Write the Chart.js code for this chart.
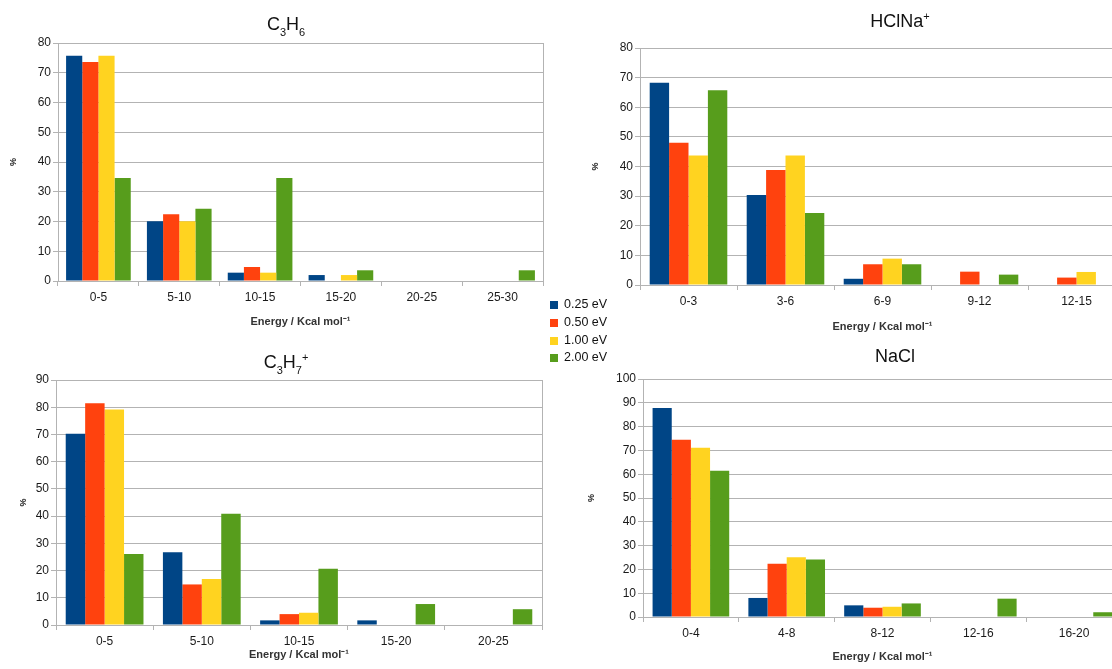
<!DOCTYPE html>
<html>
<head>
<meta charset="utf-8">
<script src="https://cdn.jsdelivr.net/npm/chart.js@4.4.1/dist/chart.umd.min.js"></script>
<style>
  html, body { margin: 0; padding: 0; background: #fff; }
  body { width: 1112px; height: 669px; overflow: hidden; position: relative;
         font-family: "Liberation Sans", Arial, sans-serif; }
  canvas { position: absolute; }
  .ttl { position: absolute; width: 300px; text-align: center; font-size: 18px;
         line-height: 20px; color: #111; }
  .ttl sub { font-size: 11px; vertical-align: -6px; line-height: 0; }
  .ttl sup { font-size: 11px; vertical-align: 7px; line-height: 0; }
  #legend { position: absolute; left: 550px; top: 296px; font-size: 12.5px; color: #111; }
  #legend div { height: 17.8px; line-height: 17px; white-space: nowrap; }
  #legend span { display: inline-block; width: 8px; height: 8px; margin-right: 6px;
                 vertical-align: -1px; }
</style>
</head>
<body>
<canvas id="cTL" width="560" height="335" style="left:0;top:0"></canvas>
<canvas id="cTR" width="580" height="340" style="left:560px;top:0"></canvas>
<canvas id="cBL" width="560" height="329" style="left:0;top:340px"></canvas>
<canvas id="cBR" width="580" height="329" style="left:560px;top:340px"></canvas>

<div class="ttl" style="left:136px;top:14px">C<sub>3</sub>H<sub>6</sub></div>
<div class="ttl" style="left:750px;top:11px">HClNa<sup>+</sup></div>
<div class="ttl" style="left:136px;top:352px">C<sub>3</sub>H<sub>7</sub><sup>+</sup></div>
<div class="ttl" style="left:745px;top:346px">NaCl</div>

<div id="legend"></div>

<script>
// Series (collision energies) and their colours
const seriesNames = ['0.25 eV', '0.50 eV', '1.00 eV', '2.00 eV'];
const seriesColors = ['#004586', '#ff420e', '#ffd320', '#579d1c'];

// C3H6 : energy bins and percentages
const c3h6Bins = ['0-5', '5-10', '10-15', '15-20', '20-25', '25-30'];
const c3h6_025 = [75.7, 20.1, 2.8, 2.0, 0, 0];
const c3h6_050 = [73.6, 22.4, 4.7, 0, 0, 0];
const c3h6_100 = [75.7, 20.1, 2.8, 2.0, 0, 0];
const c3h6_200 = [34.6, 24.3, 34.6, 3.6, 0, 3.6];

// HClNa+
const hclnaBins = ['0-3', '3-6', '6-9', '9-12', '12-15'];
const hclna_025 = [68.3, 30.4, 2.1, 0, 0];
const hclna_050 = [48.0, 38.8, 7.0, 4.5, 2.5];
const hclna_100 = [43.7, 43.7, 8.9, 0, 4.4];
const hclna_200 = [65.7, 24.3, 7.0, 3.5, 0];

// C3H7+
const c3h7Bins = ['0-5', '5-10', '10-15', '15-20', '20-25'];
const c3h7_025 = [70.3, 26.7, 1.7, 1.7, 0];
const c3h7_050 = [81.5, 14.9, 4.0, 0, 0];
const c3h7_100 = [79.2, 16.9, 4.5, 0, 0];
const c3h7_200 = [26.1, 40.9, 20.7, 7.7, 5.8];

// NaCl
const naclBins = ['0-4', '4-8', '8-12', '12-16', '16-20'];
const nacl_025 = [87.8, 8.0, 4.9, 0, 0];
const nacl_050 = [74.5, 22.4, 3.9, 0, 0];
const nacl_100 = [71.1, 25.1, 4.3, 0, 0];
const nacl_200 = [61.5, 24.2, 5.7, 7.7, 2.0];

const xAxisTitle = 'Energy / Kcal mol\u207B\u00B9';
const yAxisTitle = '%';

const GRID = '#b3b3b3';
const FONT = "'Liberation Sans', Arial, sans-serif";

// outline of the plotting area
const frame = {
  id: 'frame',
  beforeDatasetsDraw(chart) {
    const { ctx, chartArea: a } = chart;
    ctx.save();
    ctx.strokeStyle = GRID;
    ctx.lineWidth = 1;
    ctx.strokeRect(Math.round(a.left) + 0.5, Math.round(a.top) + 0.5,
                   Math.round(a.right - a.left), Math.round(a.bottom - a.top));
    ctx.restore();
  }
};

function makeChart(id, bins, values, yMax, g) {
  return new Chart(document.getElementById(id), {
    type: 'bar',
    data: {
      labels: bins,
      datasets: values.map((v, i) => ({
        label: seriesNames[i],
        data: v,
        backgroundColor: seriesColors[i],
        borderWidth: 0,
        categoryPercentage: 0.8,
        barPercentage: 1.0
      }))
    },
    options: {
      responsive: false,
      animation: false,
      devicePixelRatio: 1,
      layout: { padding: g.pad },
      plugins: { legend: { display: false }, tooltip: { enabled: false }, title: { display: false } },
      scales: {
        x: {
          afterFit(s) { s.height = g.xh; },
          grid: { display: true, drawOnChartArea: false, drawTicks: true, tickLength: 5, color: GRID, offset: true },
          border: { display: true, color: GRID },
          ticks: { color: '#1a1a1a', font: { family: FONT, size: 12 }, padding: 4, maxRotation: 0 },
          title: { display: true, text: xAxisTitle, color: '#333',
                   font: { family: FONT, size: 11, weight: 'bold' }, padding: { top: 0, bottom: 2 } }
        },
        y: {
          min: 0, max: yMax,
          afterFit(s) { s.width = g.yw; },
          grid: { color: GRID, drawTicks: true, tickLength: 5 },
          border: { display: true, color: GRID },
          ticks: { stepSize: 10, color: '#1a1a1a', font: { family: FONT, size: 12 }, padding: 2 },
          title: { display: true, text: yAxisTitle, color: '#222',
                   font: { family: FONT, size: 9, weight: 'bold' }, padding: { top: 8, bottom: 0 } }
        }
      }
    },
    plugins: [frame]
  });
}

makeChart('cTL', c3h6Bins, [c3h6_025, c3h6_050, c3h6_100, c3h6_200], 80,
  { pad: { top: 43, right: 17, bottom: 4, left: 0 }, yw: 58, xh: 50 });
makeChart('cTR', hclnaBins, [hclna_025, hclna_050, hclna_100, hclna_200], 80,
  { pad: { top: 48, right: 15, bottom: 4, left: 22 }, yw: 58, xh: 51 });
makeChart('cBL', c3h7Bins, [c3h7_025, c3h7_050, c3h7_100, c3h7_200], 90,
  { pad: { top: 40, right: 18, bottom: 5, left: 10 }, yw: 46, xh: 39 });
makeChart('cBR', naclBins, [nacl_025, nacl_050, nacl_100, nacl_200], 100,
  { pad: { top: 39, right: 18, bottom: 3, left: 18 }, yw: 65, xh: 49 });

// shared legend
const lg = document.getElementById('legend');
seriesNames.forEach((n, i) => {
  const row = document.createElement('div');
  const sw = document.createElement('span');
  sw.style.background = seriesColors[i];
  row.appendChild(sw);
  row.appendChild(document.createTextNode(n));
  lg.appendChild(row);
});
</script>
</body>
</html>
